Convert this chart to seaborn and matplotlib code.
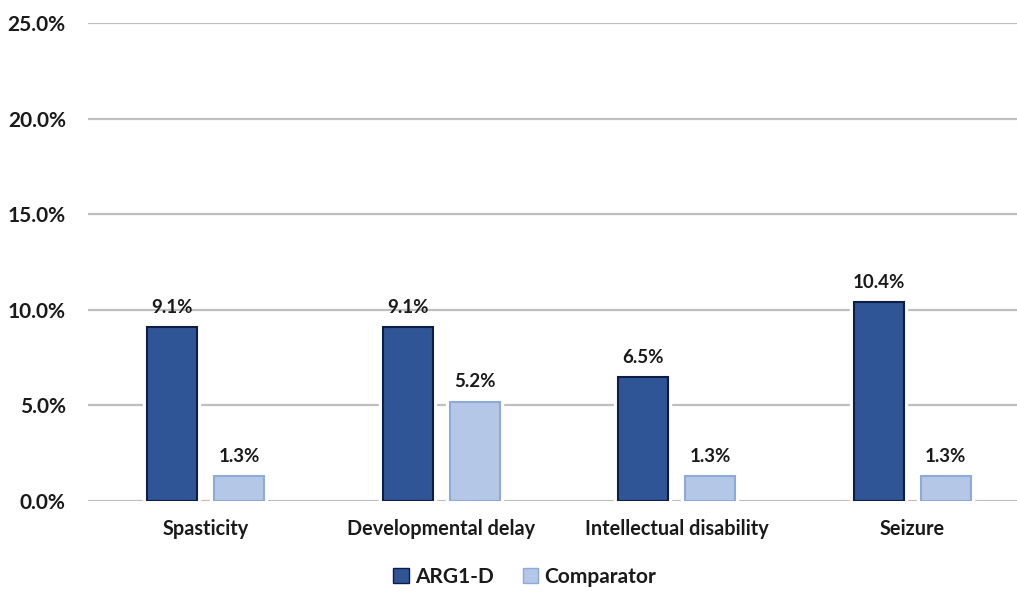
import pandas as pd
import numpy as np
import matplotlib.pyplot as plt
import seaborn as sns
from matplotlib.ticker import FuncFormatter
from matplotlib.patches import Patch
from matplotlib.font_manager import FontProperties

sns.set_style("white")
plt.rcParams['font.family'] = ['Lato', 'DejaVu Sans']

# Data (percent)
conditions = ['Spasticity', 'Developmental delay', 'Intellectual disability', 'Seizure']
arg1d = [9.1, 9.1, 6.5, 10.4]
comparator = [1.3, 5.2, 1.3, 1.3]
groups = ['ARG1-D', 'Comparator']

df = pd.DataFrame({
    'Condition': conditions * 2,
    'Group': [groups[0]] * 4 + [groups[1]] * 4,
    'Pct': arg1d + comparator,
})

fills = {'ARG1-D': '#2f5597', 'Comparator': '#b4c7e7'}
edges = {'ARG1-D': '#0f1d45', 'Comparator': '#8eaadb'}

fig = plt.figure(figsize=(10.17, 5.93), dpi=100)
ax = fig.add_axes([88 / 1017, 92 / 593, 929 / 1017, 478 / 593])

# white halo behind bars (breaks the gridlines like the original)
sns.barplot(data=df, x='Condition', y='Pct', hue='Group', palette=['white', 'white'],
            width=0.57, gap=0.26, edgecolor='white', linewidth=6, legend=False,
            saturation=1, ax=ax, zorder=2)
sns.barplot(data=df, x='Condition', y='Pct', hue='Group', palette=fills,
            width=0.57, gap=0.26, linewidth=1.5, legend=False, saturation=1,
            ax=ax, zorder=3)

# colour the edges per series and add value labels
for cont, g in zip(ax.containers[2:], groups):
    for bar in cont:
        bar.set_edgecolor(edges[g])
    ax.bar_label(cont, labels=[f'{v:.1f}%' for v in cont.datavalues], padding=8,
                 fontsize=13.5, fontweight='bold', color='#1a1a1a')

ax.set_ylim(0, 25)
ax.set_xlim(-0.5, -0.5 + 929 / 235.5)
ax.set_yticks(np.arange(0, 25.1, 5))
ax.yaxis.set_major_formatter(FuncFormatter(lambda v, p: f'{v:.1f}%'))
ax.grid(axis='y', color='#bfbfbf', linewidth=1.6, zorder=0)
ax.set_axisbelow(True)
sns.despine(ax=ax, left=True, bottom=True, right=True, top=True)
ax.tick_params(axis='both', length=0)
ax.tick_params(axis='y', pad=16, labelsize=15)
ax.tick_params(axis='x', pad=13, labelsize=14.3)
for lab in ax.get_xticklabels() + ax.get_yticklabels():
    lab.set_fontweight('bold')
    lab.set_color('#1a1a1a')
ax.set_xlabel('')
ax.set_ylabel('')

handles = [Patch(facecolor=fills[g], edgecolor=edges[g], label=g) for g in groups]
leg_font = FontProperties(family=['Lato', 'DejaVu Sans'], weight='bold', size=15)
leg = fig.legend(handles=handles, loc='center', bbox_to_anchor=(0.516, 0.027), ncol=2,
                 frameon=False, handlelength=0.75, handleheight=0.75, handletextpad=0.3,
                 columnspacing=1.4, prop=leg_font, labelcolor='#1a1a1a')

fig.savefig('out.png', dpi=100)
